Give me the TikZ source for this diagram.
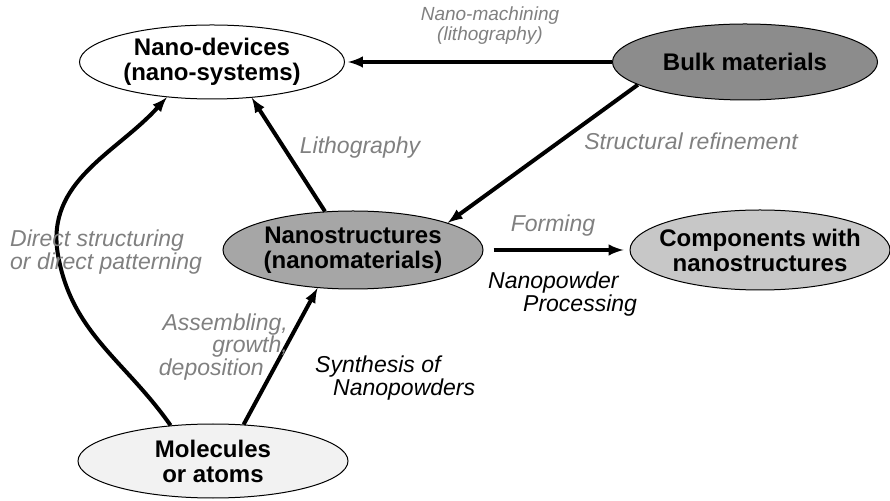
\documentclass[tikz,border=0pt]{standalone}
\usepackage{fontspec}
\setmainfont{Liberation Sans}
\usetikzlibrary{shapes.geometric}

\begin{document}
\begin{tikzpicture}[x=1pt, y=1pt,
  blob/.style={ellipse, draw, line width=1pt, inner xsep=-30pt, inner ysep=0pt,
    align=center, font=\fontsize{24}{25}\selectfont\bfseries},
  flow/.style={line width=4pt, -latex},
  lbl/.style={inner sep=0pt, font=\fontsize{23}{20}\selectfont\itshape, text=black!50},
  lbldark/.style={lbl, text=black},
  lblsmall/.style={lbl, font=\fontsize{19}{20}\selectfont\itshape}]

  \useasboundingbox (0,0) rectangle (890,500);

  % Material ellipses
  \node[blob, fill=white, minimum width=265pt, minimum height=74pt] (dev) at (212,438) {Nano-devices\\(nano-systems)};
  \node[blob, fill=black!45, minimum width=265pt, minimum height=76pt] (bulk) at (745,438) {Bulk materials};
  \node[blob, fill=black!35, minimum width=260pt, minimum height=78pt] (nano) at (353,250) {Nanostructures\\(nanomaterials)};
  \node[blob, fill=black!22, minimum width=260pt, minimum height=80pt] (comp) at (760,250) {Components with\\nanostructures};
  \node[blob, fill=black!5, minimum width=270pt, minimum height=74pt] (mol) at (213,39) {Molecules\\or atoms};

  % Process arrows
  \coordinate (cv) at (58,245);
  \draw[flow, shorten >=3pt] (bulk.west) -- (dev.east);
  \draw[flow] (bulk.192) -- (nano.16);
  \draw[flow, shorten <=10pt, shorten >=6pt] (nano.east) -- (comp.west);
  \draw[flow] (nano.126) -- (dev.-42);
  \draw[flow] (mol.50) -- (nano.227);
  \draw[flow] (mol.140) to[out=125, in=-80] (cv) to[out=100, in=228] (dev.218);

  % Process labels
  \node[lblsmall, align=center] (machining) at (490,474) {Nano-machining\\(lithography)};
  \node[lbl] (litho) at (360,352) {Lithography};
  \node[lbl] (refine) at (691,359) {Structural refinement};
  \node[lbl, align=left, anchor=west] (direct) at (10,248) {Direct structuring\\or direct patterning};
  \node[lbl] (forming) at (553,274) {Forming};
  \node[lbldark, align=left, anchor=west] (powder) at (488,206) {Nanopowder\\\hspace*{35pt}Processing};
  \node[lbl, align=right, anchor=east] (assembly) at (288,153) {Assembling,\\growth,\hspace*{7pt}\\deposition\hspace*{24pt}};
  \node[lbldark, align=left, anchor=west] (synth) at (315,122) {Synthesis of\\\hspace*{18pt}Nanopowders};

\end{tikzpicture}
\end{document}
